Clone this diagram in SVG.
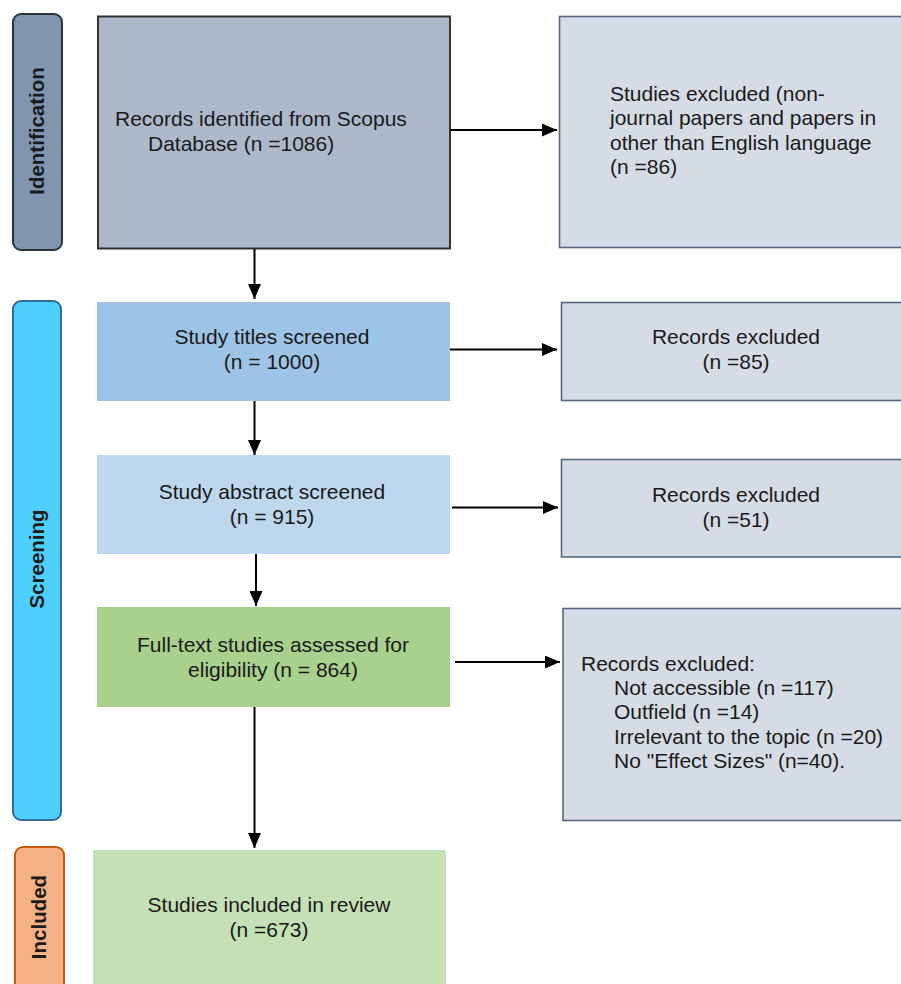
<svg xmlns="http://www.w3.org/2000/svg" width="901" height="984" viewBox="0 0 901 984">
<defs>
<marker id="ah" markerWidth="15" markerHeight="13" refX="15" refY="6.5" orient="auto" markerUnits="userSpaceOnUse">
<path d="M0,0 L15,6.5 L0,13 Z" fill="#000"/>
</marker>
<style>
text{font-family:"Liberation Sans",Arial,sans-serif;font-size:21px;fill:#1a1a1a}
.c{text-anchor:middle}
.lab{font-weight:bold;font-size:20.5px;text-anchor:middle;fill:#1a1a1a}
.ex{fill:#d6dce5;stroke:#56677f;stroke-width:1.6}
.conn{stroke:#000;stroke-width:2;fill:none;marker-end:url(#ah)}
</style>
</defs>
<rect width="901" height="984" fill="#fff"/>
<g id="stage-identification">
<rect x="13" y="14" width="49" height="236" rx="8" fill="#8095b0" stroke="#2e3338" stroke-width="2"/>
<text class="lab" transform="translate(44,131) rotate(-90)">Identification</text>
</g>
<g id="stage-screening">
<rect x="13" y="301" width="48" height="519" rx="8" fill="#4dd0fc" stroke="#2f6c9b" stroke-width="2"/>
<text class="lab" transform="translate(44,559) rotate(-90)">Screening</text>
</g>
<g id="stage-included">
<rect x="15" y="847" width="49" height="150" rx="8" fill="#f4b183" stroke="#c55a11" stroke-width="2"/>
<text class="lab" transform="translate(46,917) rotate(-90)">Included</text>
</g>
<g id="records-identified">
<rect x="98" y="16.5" width="352" height="232" fill="#adb9cb" stroke="#333" stroke-width="2"/>
<text x="115" y="126">Records identified from Scopus</text>
<text x="148" y="151">Database (n =1086)</text>
</g>
<g id="excluded-1">
<rect class="ex" x="559.5" y="16.5" width="350" height="231"/>
<text x="610" y="101">Studies excluded (non-</text>
<text x="610" y="125">journal papers and papers in</text>
<text x="610" y="150">other than English language</text>
<text x="610" y="174">(n =86)</text>
</g>
<g id="titles-screened">
<rect x="97" y="302" width="353" height="99" fill="#9dc3e6"/>
<text class="c" x="272" y="344">Study titles screened</text>
<text class="c" x="272" y="369">(n = 1000)</text>
</g>
<g id="excluded-2">
<rect class="ex" x="561.5" y="302.5" width="350" height="98"/>
<text class="c" x="736" y="344">Records excluded</text>
<text class="c" x="736" y="369">(n =85)</text>
</g>
<g id="abstract-screened">
<rect x="97" y="455" width="353" height="99" fill="#bdd7ee"/>
<text class="c" x="272" y="499">Study abstract screened</text>
<text class="c" x="272" y="524">(n = 915)</text>
</g>
<g id="excluded-3">
<rect class="ex" x="561.5" y="459.5" width="350" height="97.5"/>
<text class="c" x="736" y="502">Records excluded</text>
<text class="c" x="736" y="527">(n =51)</text>
</g>
<g id="fulltext-assessed">
<rect x="97" y="607" width="353" height="100" fill="#a9d18e"/>
<text class="c" x="273" y="652">Full-text studies assessed for</text>
<text class="c" x="273" y="677">eligibility (n = 864)</text>
</g>
<g id="excluded-4">
<rect class="ex" x="563" y="608.5" width="350" height="212"/>
<text x="581" y="671">Records excluded:</text>
<text x="614" y="695">Not accessible (n =117)</text>
<text x="614" y="719">Outfield (n =14)</text>
<text x="614" y="744">Irrelevant to the topic (n =20)</text>
<text x="614" y="768">No "Effect Sizes" (n=40).</text>
</g>
<g id="studies-included">
<rect x="93" y="850" width="353" height="140" fill="#c5e0b4"/>
<text class="c" x="269" y="912">Studies included in review</text>
<text class="c" x="269" y="937">(n =673)</text>
</g>
<g id="connectors">
<line class="conn" x1="450" y1="130" x2="557" y2="130"/>
<line class="conn" x1="254.5" y1="249" x2="254.5" y2="299"/>
<line class="conn" x1="450" y1="349.5" x2="557" y2="349.5"/>
<line class="conn" x1="254.5" y1="401" x2="254.5" y2="455"/>
<line class="conn" x1="452" y1="507.5" x2="558" y2="507.5"/>
<line class="conn" x1="256" y1="554" x2="256" y2="606"/>
<line class="conn" x1="455" y1="662" x2="560" y2="662"/>
<line class="conn" x1="254.5" y1="707" x2="254.5" y2="848"/>
</g>
</svg>
